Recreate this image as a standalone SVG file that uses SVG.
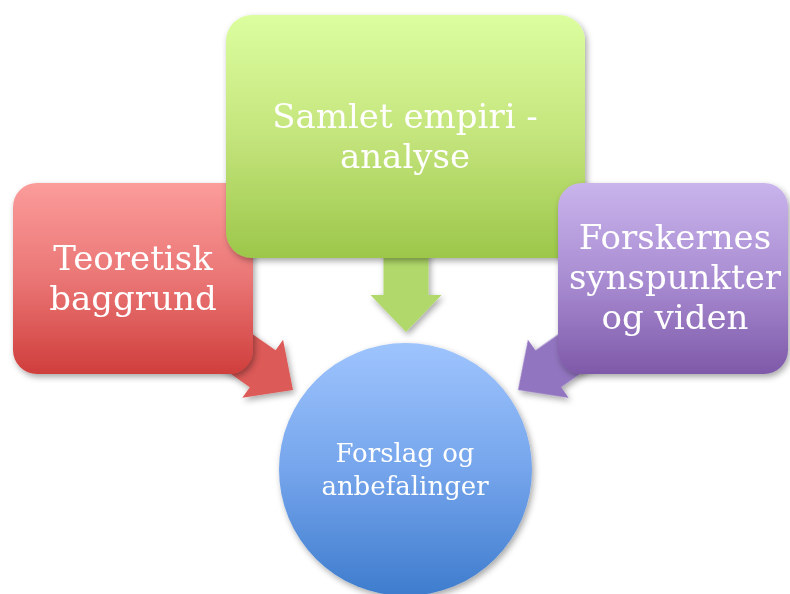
<svg xmlns="http://www.w3.org/2000/svg" width="790" height="594" viewBox="0 0 790 594">
<style>
.t{font-family:"DejaVu Serif","Liberation Serif",serif;fill:#ffffff;text-anchor:middle}
.big{font-size:34px}
.small{font-size:26px}
</style>
<defs>
<filter id="sh" x="-20%" y="-20%" width="140%" height="140%">
<feDropShadow dx="2" dy="3" stdDeviation="3" flood-color="#000" flood-opacity="0.35"/>
</filter>
<linearGradient id="gRed" x1="0" y1="0" x2="0" y2="1"><stop offset="0" stop-color="#fb9c9b"/><stop offset="0.5" stop-color="#ea7675"/><stop offset="1" stop-color="#cf3e3c"/></linearGradient>
<linearGradient id="gGreen" x1="0" y1="0" x2="0" y2="1"><stop offset="0" stop-color="#dcfe9f"/><stop offset="0.5" stop-color="#c4e47c"/><stop offset="1" stop-color="#9cc74a"/></linearGradient>
<linearGradient id="gPurple" x1="0" y1="0" x2="0" y2="1"><stop offset="0" stop-color="#c9b4ec"/><stop offset="0.5" stop-color="#a98dd2"/><stop offset="1" stop-color="#7e59a9"/></linearGradient>
<linearGradient id="gBlue" x1="0" y1="0" x2="0" y2="1"><stop offset="0" stop-color="#9ec4fd"/><stop offset="0.5" stop-color="#75a5ec"/><stop offset="1" stop-color="#3e7ccd"/></linearGradient>
<linearGradient id="aRed" gradientUnits="userSpaceOnUse" x1="0" y1="335" x2="0" y2="400"><stop offset="0" stop-color="#dc5a58"/><stop offset="1" stop-color="#c93b39"/></linearGradient>
<linearGradient id="aGreen" gradientUnits="userSpaceOnUse" x1="0" y1="258" x2="0" y2="332"><stop offset="0" stop-color="#b0d86a"/><stop offset="1" stop-color="#9cc74a"/></linearGradient>
<linearGradient id="aPurple" gradientUnits="userSpaceOnUse" x1="0" y1="335" x2="0" y2="400"><stop offset="0" stop-color="#9275c0"/><stop offset="1" stop-color="#7652a4"/></linearGradient>
<polygon id="arr" points="-37,-35.5 0,0 -37,35.5 -37,22.5 -110,22.5 -110,-22.5 -37,-22.5"/>
</defs>
<rect width="790" height="594" fill="#ffffff"/>
<g id="connectors" filter="url(#sh)">
<use href="#arr" transform="translate(293,390) rotate(35)" fill="url(#aRed)"/>
<use href="#arr" transform="translate(406,332) rotate(90)" fill="url(#aGreen)"/>
<use href="#arr" transform="translate(518,390) rotate(145)" fill="url(#aPurple)"/>
</g>
<g id="node-forslag">
<circle cx="405.5" cy="469.5" r="126.5" fill="url(#gBlue)" filter="url(#sh)"/>
<text class="t small" x="405" y="462">Forslag og</text>
<text class="t small" x="405" y="495">anbefalinger</text>
</g>
<g id="node-teoretisk">
<rect x="13" y="183" width="240" height="191" rx="24" fill="url(#gRed)" filter="url(#sh)"/>
<text class="t big" x="133" y="270">Teoretisk</text>
<text class="t big" x="133" y="310">baggrund</text>
</g>
<g id="node-empiri">
<rect x="226" y="15" width="359" height="243" rx="26" fill="url(#gGreen)" filter="url(#sh)"/>
<text class="t big" x="405" y="128">Samlet empiri -</text>
<text class="t big" x="405" y="168">analyse</text>
</g>
<g id="node-forskernes">
<rect x="558" y="183" width="230" height="191" rx="24" fill="url(#gPurple)" filter="url(#sh)"/>
<text class="t big" x="675" y="249">Forskernes</text>
<text class="t big" x="675" y="289">synspunkter</text>
<text class="t big" x="675" y="329">og viden</text>
</g>
</svg>
